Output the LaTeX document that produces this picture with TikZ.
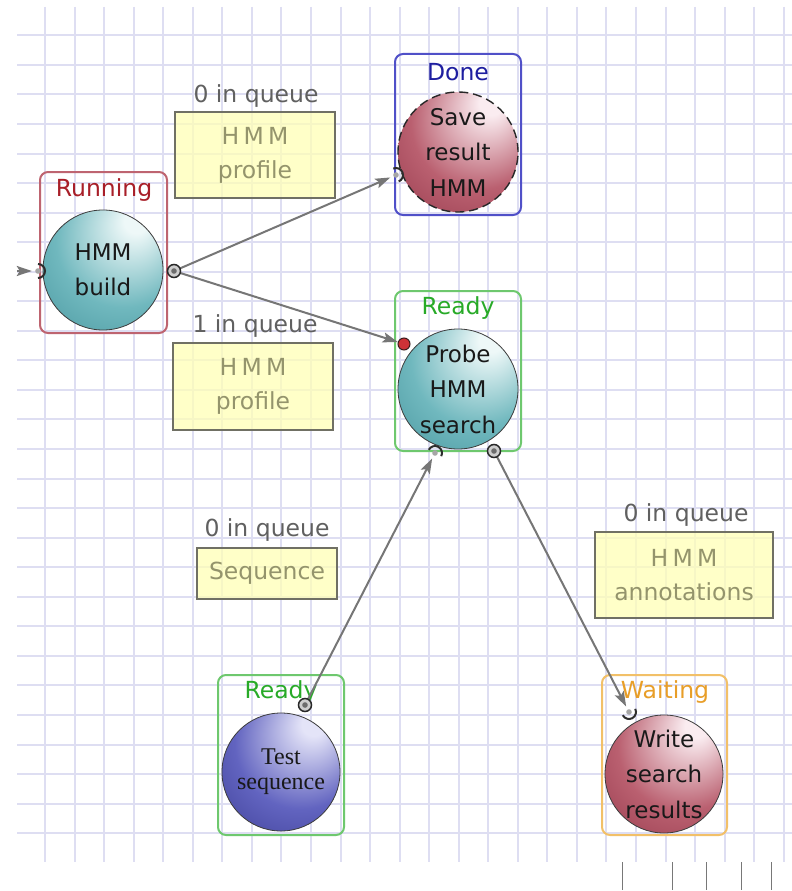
\documentclass[tikz,border=0pt]{standalone}
\usepackage{fontspec}
\setmainfont{DejaVu Sans}
\newfontfamily\serifface{Liberation Serif}
\usetikzlibrary{arrows.meta}
\definecolor{gridc}{RGB}{222,222,242}
\definecolor{tealhi}{RGB}{238,248,248}
\definecolor{tealmid}{RGB}{112,184,190}
\definecolor{tealout}{RGB}{36,120,130}
\definecolor{maroonhi}{RGB}{250,236,240}
\definecolor{maroonmid}{RGB}{186,96,112}
\definecolor{maroonout}{RGB}{118,24,44}
\definecolor{bluehi}{RGB}{228,228,248}
\definecolor{bluemid}{RGB}{98,100,192}
\definecolor{blueout}{RGB}{28,28,112}
\definecolor{runc}{RGB}{190,100,112}
\definecolor{runt}{RGB}{168,30,40}
\definecolor{donec}{RGB}{80,80,200}
\definecolor{donet}{RGB}{30,30,160}
\definecolor{readyc}{RGB}{110,200,110}
\definecolor{readyt}{RGB}{40,170,40}
\definecolor{waitc}{RGB}{242,192,104}
\definecolor{waitt}{RGB}{232,158,40}
\definecolor{qfill}{RGB}{255,255,182}
\definecolor{qdraw}{RGB}{112,112,100}
\definecolor{qtext}{RGB}{148,148,108}
\definecolor{qlabel}{RGB}{96,96,96}
\definecolor{arrowc}{RGB}{118,118,118}
\definecolor{portred}{RGB}{205,50,55}
\pgfdeclareradialshading{tealball}{\pgfpoint{15bp}{22bp}}{color(0bp)=(tealhi); color(5bp)=(tealhi); color(28bp)=(tealmid); color(64bp)=(tealout)}
\pgfdeclareradialshading{maroonball}{\pgfpoint{15bp}{22bp}}{color(0bp)=(maroonhi); color(5bp)=(maroonhi); color(28bp)=(maroonmid); color(64bp)=(maroonout)}
\pgfdeclareradialshading{blueball}{\pgfpoint{15bp}{22bp}}{color(0bp)=(bluehi); color(5bp)=(bluehi); color(28bp)=(bluemid); color(64bp)=(blueout)}
\tikzset{
  gridline/.style={draw=gridc, line width=1.3pt},
  group/.style={draw, line width=2pt, rounded corners=8pt},
  glabel/.style={font=\fontsize{23.5}{28}\selectfont, inner sep=0pt},
  ball/.style={circle, minimum size=120pt, inner sep=0pt, draw={rgb,255:red,60;green,60;blue,60}, line width=0.8pt,
     text={rgb,255:red,25;green,25;blue,25}, align=center, font=\fontsize{23}{35.5}\selectfont},
  qbox/.style={draw=qdraw, line width=1.5pt, fill=qfill, fill opacity=0.75, text opacity=1, text=qtext, align=center,
     font=\fontsize{23.5}{34}\selectfont, inner sep=0pt},
  qlab/.style={text=qlabel, font=\fontsize{23.5}{28}\selectfont, inner sep=0pt},
  outport/.style={circle, minimum size=13pt, inner sep=0pt, draw={rgb,255:red,40;green,40;blue,40}, line width=1.5pt, fill={rgb,255:red,205;green,205;blue,205}},
  inport/.style={circle, minimum size=12pt, inner sep=0pt},
  redport/.style={circle, minimum size=12pt, inner sep=0pt, draw={rgb,255:red,60;green,30;blue,30}, line width=1pt, fill=portred},
  flow/.style={draw=arrowc, line width=2pt, -{Stealth[length=15pt, width=10pt, inset=3pt]}},
  cup/.style={draw={rgb,255:red,45;green,45;blue,45}, line width=2pt},
  tick/.style={draw={rgb,255:red,120;green,120;blue,120}, line width=1pt}
}
\begin{document}
\begin{tikzpicture}[x=1pt, y=-1pt]
\useasboundingbox (0,0) rectangle (792,891);
\fill[white] (0,0) rectangle (792,891);
% grid
\foreach \i in {0,...,25} {\pgfmathsetmacro\gx{round(45+29.55*\i)}\draw[gridline] (\gx, 7) -- (\gx, 862);}
\foreach \j in {0,...,27} {\pgfmathsetmacro\gy{round(35.3+29.55*\j)}\draw[gridline] (17, \gy) -- (792, \gy);}
% bottom ticks
\foreach \t in {622,672,706.5,741.5,771.5} {\draw[tick] (\t,862) -- (\t,890);}

% queue boxes
\node[qlab] (q1l) at (256,96) {0 in queue};
\node[qbox, minimum width=160pt, minimum height=86pt] (q1) at (255,155) {{\addfontfeature{LetterSpace=18}HMM}\\profile};
\node[qlab] (q2l) at (255,326) {1 in queue};
\node[qbox, minimum width=160pt, minimum height=87pt] (q2) at (253,386.5) {{\addfontfeature{LetterSpace=18}HMM}\\profile};
\node[qlab] (q3l) at (267,530) {0 in queue};
\node[qbox, minimum width=140pt, minimum height=51pt] (q3) at (267,573.5) {Sequence};
\node[qlab] (q4l) at (686,515) {0 in queue};
\node[qbox, minimum width=178pt, minimum height=86pt] (q4) at (684,575) {{\addfontfeature{LetterSpace=18}HMM}\\annotations};

% group boxes
\draw[group, runc] (40,172) rectangle (167,333);
\node[glabel, text=runt] (runlab) at (104,190) {Running};
\draw[group, donec] (395,54) rectangle (521,215);
\node[glabel, text=donet] (donelab) at (458,72) {Done};
\draw[group, readyc] (395,291) rectangle (521,451);
\node[glabel, text=readyt] (ready1lab) at (458,308) {Ready};
\draw[group, readyc] (218,675) rectangle (344,835);
\node[glabel, text=readyt] (ready2lab) at (281,692) {Ready};
\draw[group, waitc] (602,675) rectangle (727,835);
\node[glabel, text=waitt] (waitlab) at (665,692) {Waiting};

% process balls
\node[ball, shading=tealball] (build) at (103,270) {HMM\\build};
\node[ball, shading=maroonball, draw={rgb,255:red,40;green,40;blue,40}, dash pattern=on 9pt off 5pt, line width=1.4pt] (save) at (458,152) {Save\\result\\HMM};
\node[ball, shading=tealball] (probe) at (458,389) {Probe\\HMM\\search};
\node[ball, shading=blueball, minimum size=118pt, font=\serifface\fontsize{24}{25}\selectfont] (test) at (281,772) {Test\\sequence};
\node[ball, shading=maroonball, minimum size=118pt] (write) at (664,774) {Write\\search\\results};

% ports
\coordinate (src) at (17,271);
\coordinate (buildoutc) at (174,271);
\coordinate (probeoutc) at (494,451);
\coordinate (testoutc) at (305,705);
\node[inport] (buildin) at (38,271) {};
\node[inport] (savein) at (396,175) {};
\node[redport] (probein1) at (404,344) {};
\node[inport] (probein2) at (435,453) {};
\node[inport] (writein) at (629,712) {};

% connectors
\draw[flow] (src) -- (buildin);
\draw[flow] (buildoutc) -- (savein);
\draw[flow] (buildoutc) -- (probein1);
\draw[flow] (testoutc) -- (probein2);
\draw[flow] (probeoutc) -- (writein);

% input cups
\draw[cup] (buildin.center) ++(90:7) arc[start angle=90, end angle=-90, radius=7];
\fill[gray!70] (buildin.center) circle (2.8);
\draw[cup] (savein.center) ++(67:7) arc[start angle=67, end angle=-113, radius=7];
\fill[gray!70] (savein.center) circle (2.8);
\draw[cup] (probein2.center) ++(27:7) arc[start angle=27, end angle=-153, radius=7];
\fill[gray!70] (probein2.center) circle (2.8);
\draw[cup] (writein.center) ++(153:7) arc[start angle=153, end angle=-27, radius=7];
\fill[gray!70] (writein.center) circle (2.8);

% output ports
\node[outport] (buildout) at (buildoutc) {};
\fill[gray!85!black] (buildout.center) circle (2.8);
\node[outport] (probeout) at (probeoutc) {};
\fill[gray!85!black] (probeout.center) circle (2.8);
\node[outport] (testout) at (testoutc) {};
\fill[gray!85!black] (testout.center) circle (2.8);
\end{tikzpicture}
\end{document}
